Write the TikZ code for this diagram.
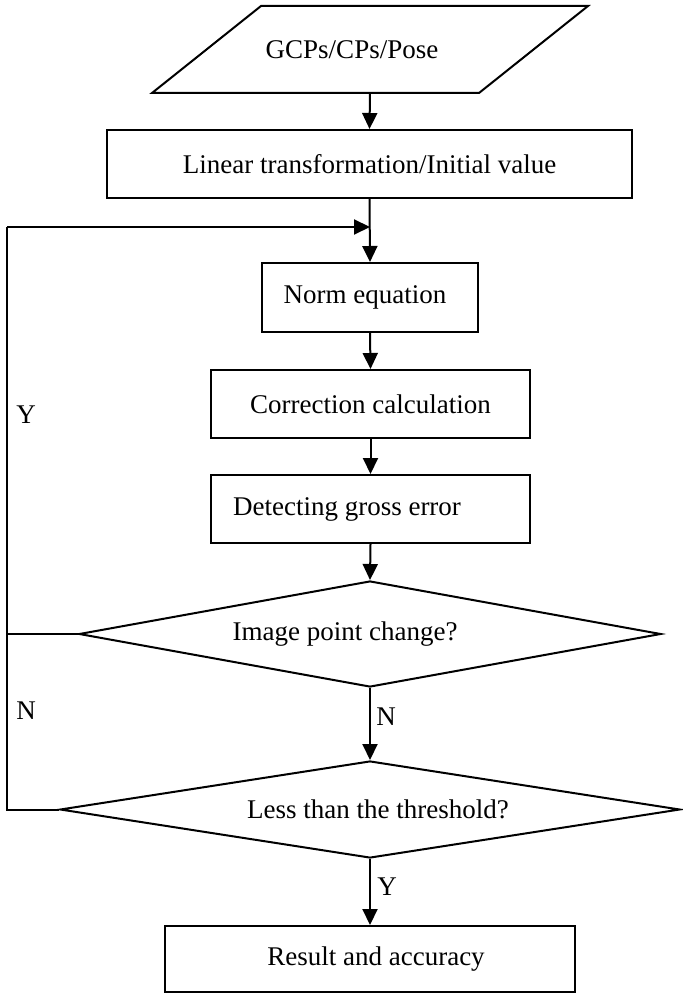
\documentclass[tikz,border=0pt]{standalone}
\usepackage{fontspec}
\setmainfont{Liberation Serif}
\usetikzlibrary{shapes.geometric,arrows.meta}
\begin{document}
\begin{tikzpicture}[x=0.5pt,y=-0.5pt,
  every node/.style={font=\fontsize{13.5}{16}\selectfont, inner sep=0pt},
  box/.style={draw, line width=1pt, rectangle},
  dec/.style={draw, line width=1pt, diamond},
  line/.style={line width=1pt, line join=miter},
  arrow/.style={line width=1pt, -{Triangle[length=8pt,width=7.5pt]}}]
\useasboundingbox (0,0) rectangle (683,994);
% input parallelogram
\draw[line] (261,6) -- (588,6) -- (479,93) -- (152,93) -- cycle;
\node (in) at (370,49.5) [minimum height=43.5pt, label={[xshift=-9pt]center:GCPs/CPs/Pose}] {};
% process boxes
\node (lin) at (369.5,164) [box, minimum width=262.5pt, minimum height=34pt] {Linear transformation/Initial value};
\node (norm) at (370,297.5) [box, minimum width=108pt, minimum height=34.5pt, label={[xshift=-2.5pt]center:Norm equation}] {};
\node (corr) at (370.5,404) [box, minimum width=159.5pt, minimum height=34pt] {Correction calculation};
\node (det) at (370.5,509) [box, minimum width=159.5pt, minimum height=34pt, label={[xshift=-11.75pt]center:Detecting gross error}] {};
% decisions
\node (d1) at (370,634) [dec, minimum width=291pt, minimum height=53pt, label={[xshift=-12.5pt]center:Image point change?}] {};
\node (d2) at (370,809.5) [dec, minimum width=310pt, minimum height=48.5pt, label={[xshift=4pt]center:Less than the threshold?}] {};
% result
\node (res) at (370,959) [box, minimum width=205pt, minimum height=33pt, label={[xshift=3pt]center:Result and accuracy}] {};
% loop coordinates
\coordinate (j) at (370,227);
\coordinate (lp) at (7,227);
% connectors
\draw[arrow] (in.south) -- (lin.north);
\draw[arrow] (lin.south) -- (norm.north);
\draw[arrow] (norm.south) -- (corr.north);
\draw[arrow] (corr.south) -- (det.north);
\draw[arrow] (det.south) -- (d1.north);
\draw[arrow] (d1.south) -- (d2.north);
\draw[arrow] (d2.south) -- (res.north);
\draw[line] (d2.west) -| (lp);
\draw[arrow] (lp) -- (j);
\draw[line] (d1.west) -- (d1.west -| lp);
% branch labels
\node (y1) at (26,415) {Y};
\node (n1) at (26,711) {N};
\node (n2) at (386,717) {N};
\node (y2) at (387,887) {Y};
\end{tikzpicture}
\end{document}
